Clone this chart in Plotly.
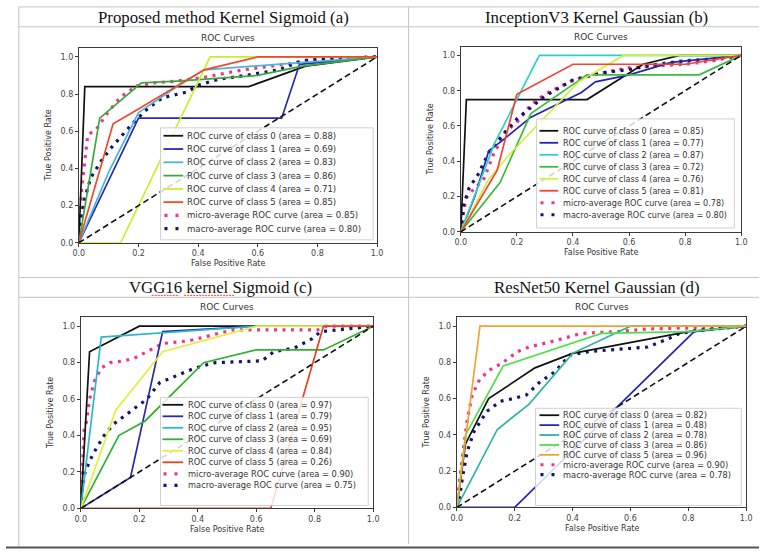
import plotly.graph_objects as go

W, H = 765, 554

# ---------------- data ----------------
PANEL_TITLES = ["Proposed method Kernel Sigmoid (a)", "InceptionV3 Kernel Gaussian (b)",
                "VGG16 kernel Sigmoid (c)", "ResNet50 Kernel Gaussian (d)"]

# Panel (a)
A_CLASSES = [0, 1, 2, 3, 4, 5]
A_AUC = [0.88, 0.69, 0.83, 0.86, 0.71, 0.85]
A_MICRO_AUC, A_MACRO_AUC = 0.85, 0.80
A_FPR = [[0, 0.02, 0.57, 0.76, 1],
         [0, 0.2, 0.68, 0.74, 1],
         [0, 0.1, 0.2, 0.33, 0.42, 0.75, 1],
         [0, 0.07, 0.21, 0.33, 0.6, 0.75, 1],
         [0, 0.14, 0.44, 1],
         [0, 0.115, 0.2, 0.42, 0.6, 1]]
A_TPR = [[0, 0.84, 0.84, 0.95, 1],
         [0, 0.67, 0.67, 0.96, 1],
         [0, 0.38, 0.7, 0.84, 0.93, 0.97, 1],
         [0, 0.67, 0.86, 0.87, 0.9, 0.95, 1],
         [0, 0, 1, 1],
         [0, 0.64, 0.72, 0.93, 1, 1]]
A_MICRO_FPR = [0, 0.01, 0.03, 0.058, 0.097, 0.14, 0.196, 0.25, 0.33, 0.42, 0.55, 0.69, 0.8, 1]
A_MICRO_TPR = [0, 0.3, 0.58, 0.61, 0.7, 0.785, 0.845, 0.86, 0.87, 0.89, 0.93, 0.96, 0.99, 1]
A_MACRO_FPR = [0, 0.01, 0.02, 0.04, 0.075, 0.108, 0.146, 0.185, 0.23, 0.28, 0.36, 0.405, 0.47, 0.56, 0.67, 0.75, 0.86, 1]
A_MACRO_TPR = [0, 0.15, 0.24, 0.35, 0.44, 0.51, 0.58, 0.65, 0.72, 0.78, 0.81, 0.85, 0.88, 0.9, 0.93, 0.98, 0.99, 1]

# Panel (b)
B_CLASSES = [0, 1, 2, 3, 4, 5]
B_AUC = [0.85, 0.77, 0.87, 0.72, 0.76, 0.81]
B_MICRO_AUC, B_MACRO_AUC = 0.78, 0.80
B_FPR = [[0, 0.02, 0.45, 0.55, 0.65, 0.78, 1],
         [0, 0.05, 0.1, 0.15, 0.25, 0.43, 0.48, 0.6, 0.75, 1],
         [0, 0.12, 0.28, 1],
         [0, 0.14, 0.25, 0.45, 0.85, 1],
         [0, 0.1, 0.18, 0.42, 0.58, 1],
         [0, 0.13, 0.2, 0.4, 0.8, 1]]
B_TPR = [[0, 0.75, 0.75, 0.85, 0.95, 1, 1],
         [0, 0.2, 0.46, 0.52, 0.65, 0.79, 0.85, 0.89, 0.96, 1],
         [0, 0.5, 1, 1],
         [0, 0.28, 0.67, 0.89, 0.89, 1],
         [0, 0.3, 0.45, 0.85, 1, 1],
         [0, 0.35, 0.78, 0.95, 0.95, 1]]
B_MICRO_FPR = [0, 0.018, 0.05, 0.08, 0.117, 0.16, 0.2, 0.25, 0.3, 0.35, 0.4, 0.5, 0.6, 0.7, 0.8, 0.9, 1]
B_MICRO_TPR = [0, 0.19, 0.25, 0.29, 0.44, 0.57, 0.62, 0.72, 0.78, 0.82, 0.86, 0.9, 0.93, 0.94, 0.95, 0.97, 1]
B_MACRO_FPR = [0, 0.01, 0.03, 0.06, 0.1, 0.15, 0.2, 0.3, 0.4, 0.5, 0.6, 0.7, 0.8, 0.9, 1]
B_MACRO_TPR = [0, 0.15, 0.25, 0.32, 0.45, 0.55, 0.64, 0.77, 0.86, 0.9, 0.92, 0.95, 0.97, 0.98, 1]

# Panel (c)
C_CLASSES = [0, 1, 2, 3, 4, 5]
C_AUC = [0.97, 0.79, 0.95, 0.69, 0.84, 0.26]
C_MICRO_AUC, C_MACRO_AUC = 0.90, 0.75
C_FPR = [[0, 0.03, 0.2, 1],
         [0, 0.17, 0.28, 0.6, 1],
         [0, 0.07, 0.6, 1],
         [0, 0.13, 0.22, 0.42, 0.6, 0.83, 1],
         [0, 0.12, 0.28, 0.6, 1],
         [0, 0.65, 0.83, 1]]
C_TPR = [[0, 0.86, 1, 1],
         [0, 0.17, 0.97, 1, 1],
         [0, 0.94, 1, 1],
         [0, 0.4, 0.48, 0.8, 0.87, 0.87, 1],
         [0, 0.54, 0.86, 1, 1],
         [0, 0, 1, 1]]
C_MICRO_FPR = [0, 0.0045, 0.011, 0.02, 0.03, 0.047, 0.07, 0.1, 0.15, 0.19, 0.24, 0.28, 0.37, 0.44, 0.52, 0.81, 0.84, 1]
C_MICRO_TPR = [0, 0.21, 0.43, 0.48, 0.6, 0.7, 0.77, 0.8, 0.81, 0.83, 0.87, 0.905, 0.92, 0.95, 0.98, 0.98, 1, 1]
C_MACRO_FPR = [0, 0.005, 0.013, 0.03, 0.053, 0.08, 0.11, 0.17, 0.226, 0.27, 0.33, 0.39, 0.46, 0.62, 0.66, 0.73, 0.79, 0.82, 1]
C_MACRO_TPR = [0, 0.1, 0.19, 0.26, 0.33, 0.4, 0.46, 0.53, 0.6, 0.69, 0.73, 0.77, 0.8, 0.81, 0.86, 0.88, 0.93, 0.97, 1]

# Panel (d)
D_CLASSES = [0, 1, 2, 3, 5]
D_AUC = [0.82, 0.48, 0.78, 0.86, 0.96]
D_MICRO_AUC, D_MACRO_AUC = 0.90, 0.78
D_FPR = [[0, 0.03, 0.11, 0.27, 0.4, 0.6, 0.8, 1],
         [0, 0.2, 0.82, 1],
         [0, 0.14, 0.25, 0.4, 0.6, 1],
         [0, 0.03, 0.16, 0.5, 0.8, 1],
         [0, 0.08, 1]]
D_TPR = [[0, 0.35, 0.6, 0.77, 0.85, 0.91, 0.97, 1],
         [0, 0, 0.97, 1],
         [0, 0.43, 0.57, 0.85, 1, 1],
         [0, 0.4, 0.78, 0.96, 0.97, 1],
         [0, 1, 1]]
D_MICRO_FPR = [0, 0.008, 0.025, 0.036, 0.053, 0.08, 0.116, 0.16, 0.21, 0.25, 0.34, 0.43, 0.55, 0.66, 0.8, 1]
D_MICRO_TPR = [0, 0.13, 0.35, 0.48, 0.62, 0.71, 0.76, 0.8, 0.86, 0.885, 0.92, 0.96, 0.97, 0.985, 0.99, 1]
D_MACRO_FPR = [0, 0.008, 0.02, 0.036, 0.06, 0.104, 0.15, 0.195, 0.24, 0.286, 0.34, 0.39, 0.456, 0.57, 0.66, 0.73, 0.77, 0.83, 1]
D_MACRO_TPR = [0, 0.04, 0.17, 0.31, 0.42, 0.53, 0.585, 0.6, 0.62, 0.69, 0.75, 0.84, 0.86, 0.876, 0.885, 0.93, 0.96, 0.976, 1]

X_TICKS = [0.0, 0.2, 0.4, 0.6, 0.8, 1.0]
Y_TICKS = [0.0, 0.2, 0.4, 0.6, 0.8, 1.0]

# ---------------- styles ----------------
COLORS = {
    "a": ["#111111", "#2a2ab4", "#4bb4dc", "#3ca83c", "#c8f02a", "#ec4a28"],
    "b": ["#111111", "#2424b0", "#2ed0cc", "#3cbc3c", "#d2f03c", "#f04632"],
    "c": ["#111111", "#2828b0", "#2cb8c8", "#30b030", "#e0f03c", "#e44424"],
    "d": ["#111111", "#2424c0", "#2eb4a4", "#4ee04e", "#f0a432"],
}
MICRO_COLOR = "#f0348c"
MACRO_COLOR = "#14146e"
GRID = "#c4c4c4"
SANS = "DejaVu Sans"
SERIF = "Liberation Serif"

# pixel geometry of the four plot frames: left, right, top, bottom
FRAMES = {
    "a": (74, 377, 48, 245),
    "b": (462, 747, 47, 234),
    "c": (76, 373, 320, 513),
    "d": (458, 752, 320, 512),
}
TITLE_POS = {"a": (221, 18), "b": (600, 18), "c": (218, 290), "d": (600, 290)}
LEGENDS = {  # box x0,x1,y0,y1, first row y, pitch, sample x0,x1, text x, font
    "a": (157, 373, 129, 242, 137, 13.4, 160, 180, 182, 8.6),
    "b": (539, 740, 120, 230, 132, 12.1, 542, 561, 564, 8.1),
    "c": (157, 368, 401, 510, 408.5, 11.6, 159, 180, 183, 8.3),
    "d": (538, 747, 412, 510, 419, 10.0, 542, 562, 564, 8.3),
}

PANELS = {
    "a": (A_CLASSES, A_AUC, A_FPR, A_TPR, A_MICRO_FPR, A_MICRO_TPR, A_MICRO_AUC, A_MACRO_FPR, A_MACRO_TPR, A_MACRO_AUC),
    "b": (B_CLASSES, B_AUC, B_FPR, B_TPR, B_MICRO_FPR, B_MICRO_TPR, B_MICRO_AUC, B_MACRO_FPR, B_MACRO_TPR, B_MACRO_AUC),
    "c": (C_CLASSES, C_AUC, C_FPR, C_TPR, C_MICRO_FPR, C_MICRO_TPR, C_MICRO_AUC, C_MACRO_FPR, C_MACRO_TPR, C_MACRO_AUC),
    "d": (D_CLASSES, D_AUC, D_FPR, D_TPR, D_MICRO_FPR, D_MICRO_TPR, D_MICRO_AUC, D_MACRO_FPR, D_MACRO_TPR, D_MACRO_AUC),
}


def px(x):
    return x / W


def py(y):
    return 1 - y / H


fig = go.Figure()
shapes = []
annotations = []

DOTTED = "3px,5.5px"

for i, key in enumerate(["a", "b", "c", "d"]):
    classes, aucs, fprs, tprs, mi_f, mi_t, mi_auc, ma_f, ma_t, ma_auc = PANELS[key]
    n = i + 1
    xa = "x" if n == 1 else f"x{n}"
    ya = "y" if n == 1 else f"y{n}"
    L, R, T, B = FRAMES[key]

    fig.add_trace(go.Scatter(x=mi_f, y=mi_t, mode="lines", xaxis=xa, yaxis=ya,
                             line=dict(color=MICRO_COLOR, width=3.2, dash=DOTTED), showlegend=False))
    fig.add_trace(go.Scatter(x=ma_f, y=ma_t, mode="lines", xaxis=xa, yaxis=ya,
                             line=dict(color=MACRO_COLOR, width=3.2, dash=DOTTED), showlegend=False))
    for k in range(len(classes)):
        fig.add_trace(go.Scatter(x=fprs[k], y=tprs[k], mode="lines", xaxis=xa, yaxis=ya,
                                 line=dict(color=COLORS[key][k], width=1.7), showlegend=False))
    fig.add_trace(go.Scatter(x=[0, 1], y=[0, 1], mode="lines", xaxis=xa, yaxis=ya,
                             line=dict(color="#111111", width=1.6, dash="6px,3.5px"), showlegend=False))

    axis_common = dict(showgrid=False, zeroline=False, showline=True, mirror=True,
                       linecolor="#3a3a3a", linewidth=1, ticks="outside", ticklen=3,
                       tickcolor="#3a3a3a", tickfont=dict(family=SANS, size=8, color="#444444"),
                       tickformat=".1f")
    fig.update_layout(**{
        ("xaxis" if n == 1 else f"xaxis{n}"): dict(axis_common, domain=[px(L), px(R)], range=[0, 1],
                                                   tickvals=X_TICKS, anchor=ya),
        ("yaxis" if n == 1 else f"yaxis{n}"): dict(axis_common, domain=[py(B), py(T)], range=[0, 1.05],
                                                   tickvals=Y_TICKS, anchor=xa),
    })

    cx = (L + R) / 2
    cy = (T + B) / 2
    # panel title (document text)
    tx, ty = TITLE_POS[key]
    annotations.append(dict(x=px(tx), y=py(ty), xref="paper", yref="paper", text=PANEL_TITLES[i],
                            showarrow=False, xanchor="center", yanchor="middle",
                            font=dict(family=SERIF, size=16.8, color="#111111")))
    annotations.append(dict(x=px(cx), y=py(T - 10), xref="paper", yref="paper", text="ROC Curves",
                            showarrow=False, xanchor="center", yanchor="middle",
                            font=dict(family=SANS, size=9, color="#333333")))
    annotations.append(dict(x=px(cx), y=py(B + 21), xref="paper", yref="paper", text="False Positive Rate",
                            showarrow=False, xanchor="center", yanchor="middle",
                            font=dict(family=SANS, size=8, color="#333333")))
    annotations.append(dict(x=px(L - 31), y=py(cy), xref="paper", yref="paper", text="True Positive Rate",
                            showarrow=False, xanchor="center", yanchor="middle", textangle=-90,
                            font=dict(family=SANS, size=8, color="#333333")))

    # legend box
    bx0, bx1, by0, by1, r0, pitch, sx0, sx1, txx, fs = LEGENDS[key]
    shapes.append(dict(type="rect", xref="paper", yref="paper", x0=px(bx0), x1=px(bx1),
                       y0=py(by1), y1=py(by0), line=dict(color="#d0d0d0", width=1),
                       fillcolor="rgba(255,255,255,0.82)", layer="above"))
    labels = [f"ROC curve of class {c} (area = {a:.2f})" for c, a in zip(classes, aucs)]
    labels += [f"micro-average ROC curve (area = {mi_auc:.2f})",
               f"macro-average ROC curve (area = {ma_auc:.2f})"]
    for j, lab in enumerate(labels):
        yy = r0 + j * pitch
        if j < len(classes):
            shapes.append(dict(type="line", xref="paper", yref="paper", x0=px(sx0), x1=px(sx1),
                               y0=py(yy), y1=py(yy), line=dict(color=COLORS[key][j], width=1.8),
                               layer="above"))
        else:
            col = MICRO_COLOR if j == len(classes) else MACRO_COLOR
            shapes.append(dict(type="line", xref="paper", yref="paper", x0=px(sx0 + 1), x1=px(sx1),
                               y0=py(yy), y1=py(yy), line=dict(color=col, width=3.2, dash="3px,8px"),
                               layer="above"))
        annotations.append(dict(x=px(txx), y=py(yy), xref="paper", yref="paper", text=lab,
                                showarrow=False, xanchor="left", yanchor="middle",
                                font=dict(family=SANS, size=fs, color="#333333")))

# document table lines
for yv in [7, 27, 280, 300]:
    shapes.append(dict(type="line", xref="paper", yref="paper", x0=px(13), x1=1,
                       y0=py(yv), y1=py(yv), line=dict(color=GRID, width=1)))
shapes.append(dict(type="line", xref="paper", yref="paper", x0=px(13), x1=px(13),
                   y0=py(7), y1=py(551), line=dict(color=GRID, width=1)))
shapes.append(dict(type="line", xref="paper", yref="paper", x0=px(409), x1=px(409),
                   y0=py(7), y1=py(549), line=dict(color=GRID, width=1)))
shapes.append(dict(type="line", xref="paper", yref="paper", x0=0, x1=1,
                   y0=py(552.5), y1=py(552.5), line=dict(color="#555555", width=2)))
# spell-check underline under "kernel Sigmoid" in panel (c) title
shapes.append(dict(type="line", xref="paper", yref="paper", x0=px(148), x1=px(176),
                   y0=py(298), y1=py(298), line=dict(color="#e04040", width=1, dash="2px,1px")))
shapes.append(dict(type="line", xref="paper", yref="paper", x0=px(181), x1=px(232),
                   y0=py(298), y1=py(298), line=dict(color="#e04040", width=1, dash="2px,1px")))

fig.update_layout(width=W, height=H, margin=dict(l=0, r=0, t=0, b=0),
                  paper_bgcolor="white", plot_bgcolor="white", showlegend=False,
                  shapes=shapes, annotations=annotations)

fig.write_html("out.html", config={"displayModeBar": False},
               post_script="document.body.style.margin='0px';document.body.style.overflow='hidden';")
